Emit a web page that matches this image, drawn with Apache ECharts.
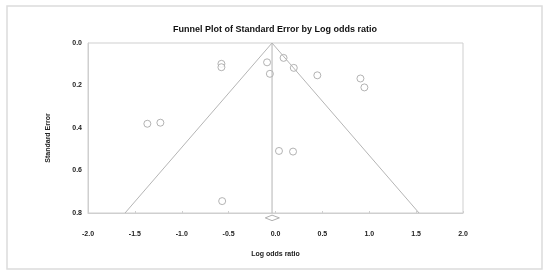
<!DOCTYPE html>
<html>
<head>
<meta charset="utf-8">
<script src="https://cdn.jsdelivr.net/npm/echarts@6/dist/echarts.min.js"></script>
<style>html,body{margin:0;padding:0;background:#fff}#c{width:550px;height:273px}</style>
</head>
<body>
<div id="c"></div>
<script>
// Study estimates: log odds ratio and standard error
var logOdds = [-0.577, -0.577, -0.09, -0.06, 0.086, 0.195, 0.446, 0.906, 0.948, -1.367, -1.228, 0.037, 0.187, -0.569];
var stdErr  = [0.098, 0.114, 0.091, 0.145, 0.070, 0.117, 0.152, 0.167, 0.209, 0.380, 0.375, 0.508, 0.511, 0.744];
// Combined effect and its confidence limits (diamond)
var pooled = -0.037;
var pooledLow = -0.109;
var pooledHigh = 0.041;
var seMax = 0.8;
var z = 1.96;
var xTicks = [-2.0, -1.5, -1.0, -0.5, 0.0, 0.5, 1.0, 1.5, 2.0];
var yTicks = [0.0, 0.2, 0.4, 0.6, 0.8];

var points = logOdds.map(function (v, i) { return [v, stdErr[i]]; });
var funnel = [[pooled - z * seMax, seMax], [pooled, 0], [pooled + z * seMax, seMax]];
var centre = [[pooled, 0], [pooled, seMax]];
var dY = 0.823, dH = 0.013;
var diamond = [[pooledLow, dY], [pooled, dY - dH], [pooledHigh, dY], [pooled, dY + dH], [pooledLow, dY]];

var chart = echarts.init(document.getElementById('c'), null, { renderer: 'canvas' });
var lab = { fontFamily: 'Liberation Sans', fontWeight: 'bold', fontSize: 7, color: '#222' };
chart.setOption({
  animation: false,
  backgroundColor: '#fff',
  title: {
    text: 'Funnel Plot of Standard Error by Log odds ratio',
    left: 'center', top: 20,
    textStyle: { fontFamily: 'Liberation Sans', fontWeight: 'bold', fontSize: 9, color: '#111' }
  },
  graphic: [{
    type: 'rect', shape: { x: 7, y: 6, width: 535, height: 263 },
    style: { fill: 'none', stroke: '#dcdcdc', lineWidth: 1.5 }, silent: true, z: -1
  }],
  grid: { left: 88, right: 87, top: 43, bottom: 60, show: true, borderColor: '#cfcfcf', borderWidth: 1, backgroundColor: 'transparent' },
  xAxis: {
    type: 'value', min: xTicks[0], max: xTicks[xTicks.length - 1], interval: 0.5,
    name: 'Log odds ratio', nameLocation: 'middle', nameGap: 38,
    nameTextStyle: lab,
    axisLine: { show: true, onZero: false, lineStyle: { color: '#cfcfcf' } },
    axisTick: { show: true, inside: true, length: 2, lineStyle: { color: '#cfcfcf' } },
    axisLabel: Object.assign({ margin: 18, formatter: function (v) { return v.toFixed(1); } }, lab),
    splitLine: { show: false }
  },
  yAxis: {
    type: 'value', inverse: true, min: yTicks[0], max: yTicks[yTicks.length - 1], interval: 0.2,
    name: 'Standard Error', nameLocation: 'middle', nameGap: 36, nameRotate: 90,
    nameTextStyle: Object.assign({ padding: [0, 20, 0, 0] }, lab),
    axisLine: { show: true, onZero: false, lineStyle: { color: '#cfcfcf' } },
    axisTick: { show: false },
    axisLabel: Object.assign({ margin: 6, formatter: function (v) { return v.toFixed(1); } }, lab),
    splitLine: { show: false }
  },
  series: [
    { type: 'line', data: funnel, symbol: 'none', lineStyle: { color: '#b5b5b5', width: 1 }, silent: true },
    { type: 'line', data: centre, symbol: 'none', lineStyle: { color: '#b5b5b5', width: 1 }, silent: true },
    { type: 'line', data: diamond, symbol: 'none', clip: false, lineStyle: { color: '#b0b0b0', width: 1 }, silent: true },
    { type: 'scatter', data: points, symbol: 'circle', symbolSize: 7,
      itemStyle: { color: '#fff', borderColor: '#a0a0a0', borderWidth: 1 } }
  ]
});
</script>
</body>
</html>
